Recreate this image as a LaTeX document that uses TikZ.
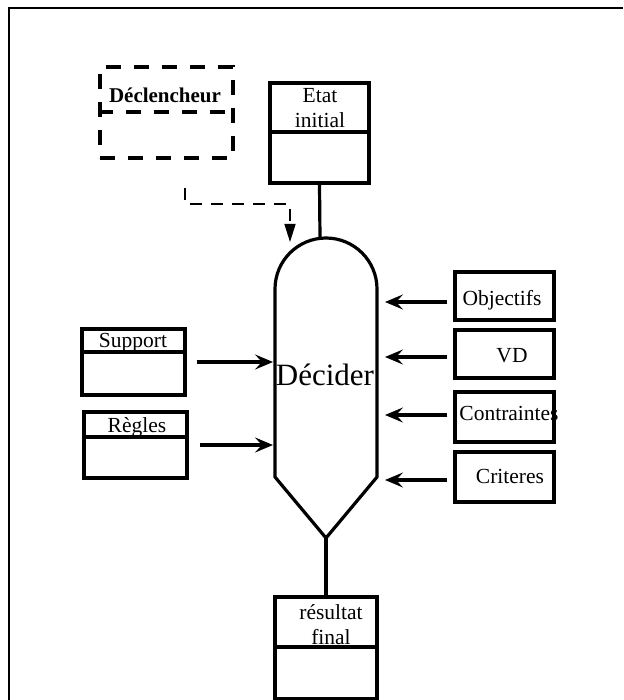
\documentclass[tikz,border=0pt]{standalone}
\usepackage{fontspec}
\setmainfont{Liberation Serif}
\usetikzlibrary{arrows.meta}
\begin{document}
\begin{tikzpicture}[x=1pt,y=-1pt,
  box/.style={draw, line width=3.2pt, inner sep=0pt},
  dashbox/.style={draw, line width=4pt, dash pattern=on 15pt off 13pt, inner sep=0pt},
  lbl/.style={inner sep=0pt, anchor=base, font=\fontsize{21.5}{25}\selectfont, align=center},
  divider/.style={line width=3.2pt},
  flow/.style={line width=3.2pt, -{Stealth[length=18pt,width=15pt,inset=7pt]}},
  trigger/.style={line width=1.5pt, dash pattern=on 12pt off 9pt, -{Triangle[length=18pt,width=11pt]}},
]
\useasboundingbox (0,0) rectangle (623,700);
% outer frame
\draw[line width=2.5pt] (9,700) -- (9,8) -- (623,8);

% trigger (dashed)
\node[dashbox, minimum width=133pt, minimum height=91pt] (decl) at (166.5,112.5) {};
\draw[line width=4pt, dash pattern=on 15pt off 13pt] (decl.west |- 0,112) -- (decl.east |- 0,112);
\node[lbl, font=\fontsize{21}{25}\selectfont\bfseries] (decllbl) at (165,103) {Déclencheur};

% initial state (base anchor of a two-line label = last line)
\node[box, minimum width=99pt, minimum height=100pt] (etat) at (319.5,133) {};
\draw[divider] (etat.west |- 0,132) -- (etat.east |- 0,132);
\node[lbl] (etatlbl) at (320,128) {Etat\\initial};

% decision shape
\coordinate (dtop) at (320,238);
\coordinate (dbot) at (326,538);
\coordinate (dleft) at (273,0);
\coordinate (dright) at (385,0);
\draw[line width=3.2pt, line join=miter] (275,477) -- (275,289) arc[start angle=180, end angle=360, radius=51] -- (377,477) -- (dbot) -- cycle;
\node[lbl, font=\fontsize{31}{36}\selectfont] (dec) at (325,385) {Décider};

% inputs on the left
\node[box, minimum width=103pt, minimum height=66pt] (support) at (133.5,362) {};
\draw[divider] (support.west |- 0,352) -- (support.east |- 0,352);
\node[lbl] (supportlbl) at (133,347) {Support};

\node[box, minimum width=103pt, minimum height=66pt] (regles) at (135.5,445) {};
\draw[divider] (regles.west |- 0,437) -- (regles.east |- 0,437);
\node[lbl] (reglbl) at (137,432) {Règles};

% inputs on the right
\node[box, minimum width=99pt, minimum height=48pt] (obj) at (504.5,296) {};
\node[lbl] (objlbl) at (502,305) {Objectifs};
\node[box, minimum width=99pt, minimum height=48pt] (vd) at (504.5,354) {};
\node[lbl] (vdlbl) at (512,362) {VD};
\node[box, minimum width=99pt, minimum height=50pt] (contr) at (504.5,417) {};
\node[lbl] (contrlbl) at (509,420) {Contraintes};
\node[box, minimum width=99pt, minimum height=50pt] (crit) at (504.5,477) {};
\node[lbl] (critlbl) at (510,483) {Criteres};

% final result
\node[box, minimum width=102pt, minimum height=102pt] (res) at (326,648) {};
\draw[divider] (res.west |- 0,647) -- (res.east |- 0,647);
\node[lbl] (reslbl) at (331,644) {résultat\\final};

% connectors
\draw[line width=3.2pt] (etat.south) -- (dtop);
\draw[line width=3.2pt] (dbot) -- (res.north);
\coordinate (trigstart) at (185,188);
\coordinate (trigend) at (290,242);
\draw[trigger] (trigstart) |- (trigend |- 0,204) -- (trigend);

\draw[flow] ([xshift=10pt]support.east) -- (support.east -| dleft);
\draw[flow] ([xshift=11pt]regles.east) -- (regles.east -| dleft);
\draw[flow] ([xshift=-6pt,yshift=-6pt]obj.west) -- ([yshift=-6pt]obj.west -| dright);
\draw[flow] ([xshift=-6pt,yshift=-3pt]vd.west) -- ([yshift=-3pt]vd.west -| dright);
\draw[flow] ([xshift=-6pt,yshift=2pt]contr.west) -- ([yshift=2pt]contr.west -| dright);
\draw[flow] ([xshift=-6pt,yshift=-3pt]crit.west) -- ([yshift=-3pt]crit.west -| dright);
\end{tikzpicture}
\end{document}
